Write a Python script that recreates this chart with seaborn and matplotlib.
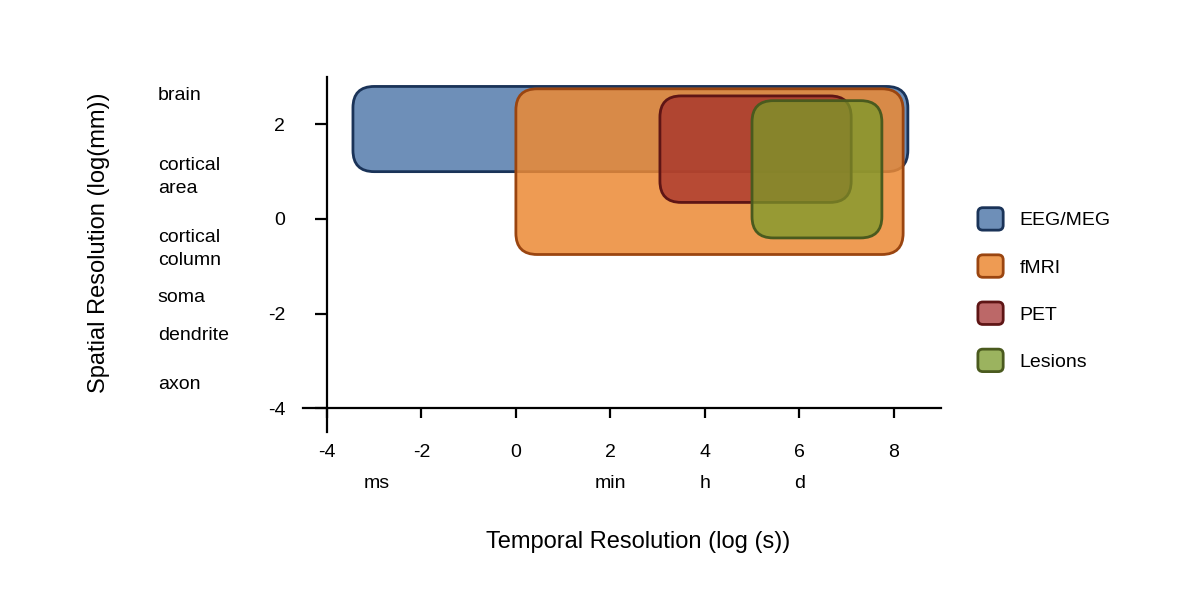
import numpy as np
import pandas as pd
import matplotlib
matplotlib.use('Agg')
import matplotlib.pyplot as plt
import seaborn as sns
from matplotlib.patches import FancyBboxPatch, Patch
from matplotlib.legend_handler import HandlerPatch
from matplotlib.colors import to_rgba

# --- datos: extensión de cada técnica (log s, log mm) ---
methods = ['EEG/MEG', 'fMRI', 'PET', 'Lesions']
t_lo = [-3.45, 0.0, 3.05, 5.0]
t_hi = [8.3, 8.2, 7.1, 7.75]
s_lo = [1.0, -0.75, 0.35, -0.4]
s_hi = [2.8, 2.75, 2.6, 2.5]

face_cols = ['#3d6aa0', '#ec8a35', '#a02828', '#7a9a2a']
edge_cols = ['#1a3358', '#9a4510', '#5e1515', '#4a5a1e']
face_alpha = [0.75, 0.85, 0.7, 0.75]

x_ticks = [-4, -2, 0, 2, 4, 6, 8]
y_ticks = [-4, -2, 0, 2]
time_units = ['ms', 'min', 'h', 'd']
time_unit_pos = [-2.95, 2.0, 4.0, 6.0]
size_names = ['brain', 'cortical\narea', 'cortical\ncolumn', 'soma', 'dendrite', 'axon']
size_pos = [2.6, 0.89, -0.63, -1.65, -2.47, -3.5]

df = pd.DataFrame({'method': methods, 't_lo': t_lo, 't_hi': t_hi,
                   's_lo': s_lo, 's_hi': s_hi})

sns.set_style('ticks')
plt.rcParams['font.family'] = ['Liberation Sans', 'DejaVu Sans']
plt.rcParams['axes.unicode_minus'] = False
plt.rcParams['text.color'] = 'black'


class RoundHandler(HandlerPatch):
    def create_artists(self, legend, orig_handle, xdescent, ydescent,
                       width, height, fontsize, trans):
        p = FancyBboxPatch((-xdescent, -ydescent), width, height,
                           boxstyle=f'round,pad=0,rounding_size={0.22 * height}',
                           facecolor=orig_handle.get_facecolor(),
                           edgecolor=orig_handle.get_edgecolor(),
                           linewidth=orig_handle.get_linewidth())
        p.set_transform(trans)
        return [p]


fig = plt.figure(figsize=(12, 6), dpi=100)
ax = fig.add_axes([0.2528, 0.28, 0.5313, 0.5917])

handles = []
for i, row in df.iterrows():
    fc = to_rgba(face_cols[i], face_alpha[i])
    box = FancyBboxPatch((row.t_lo, row.s_lo), row.t_hi - row.t_lo, row.s_hi - row.s_lo,
                         boxstyle='round,pad=0,rounding_size=0.45',
                         facecolor=fc, edgecolor=edge_cols[i], linewidth=2.0, zorder=2 + i)
    ax.add_patch(box)
    handles.append(Patch(facecolor=fc, edgecolor=edge_cols[i], linewidth=2.0, label=row.method))

ax.set_xlim(-4.5, 9)
ax.set_ylim(-4.5, 3)
ax.set_xticks(x_ticks)
ax.set_yticks(y_ticks)

sns.despine(ax=ax)
for s in ['left', 'bottom']:
    ax.spines[s].set_position(('data', -4))
    ax.spines[s].set_linewidth(1.6)
    ax.spines[s].set_color('black')
ax.tick_params(axis='both', direction='out', width=1.6, color='black',
               labelsize=14, labelcolor='black')
ax.tick_params(axis='y', length=9, pad=21)
ax.tick_params(axis='x', length=7, pad=19)

for name, y in zip(size_names, size_pos):
    ax.text(-7.58, y, name, ha='left', va='center', fontsize=14,
            linespacing=1.45, clip_on=False)
for u, x in zip(time_units, time_unit_pos):
    ax.text(x, -5.58, u, ha='center', va='center', fontsize=14, clip_on=False)

ax.set_xlabel('Temporal Resolution (log (s))', fontsize=17, color='black')
ax.xaxis.set_label_coords(0.525, -0.311)
ax.xaxis.label.set_va('center')
ax.set_ylabel('Spatial Resolution (log(mm))', fontsize=17, color='black')
ax.yaxis.set_label_coords(-0.32, 0.532)
ax.yaxis.label.set_va('center')

ax.legend(handles=handles, handler_map={Patch: RoundHandler()},
          loc='center left', bbox_to_anchor=(1.058, 0.401), frameon=False,
          borderaxespad=0, borderpad=0, fontsize=14, handlelength=1.3,
          handleheight=1.4, handletextpad=0.85, labelspacing=1.27)

fig.savefig('out.png', dpi=100)
